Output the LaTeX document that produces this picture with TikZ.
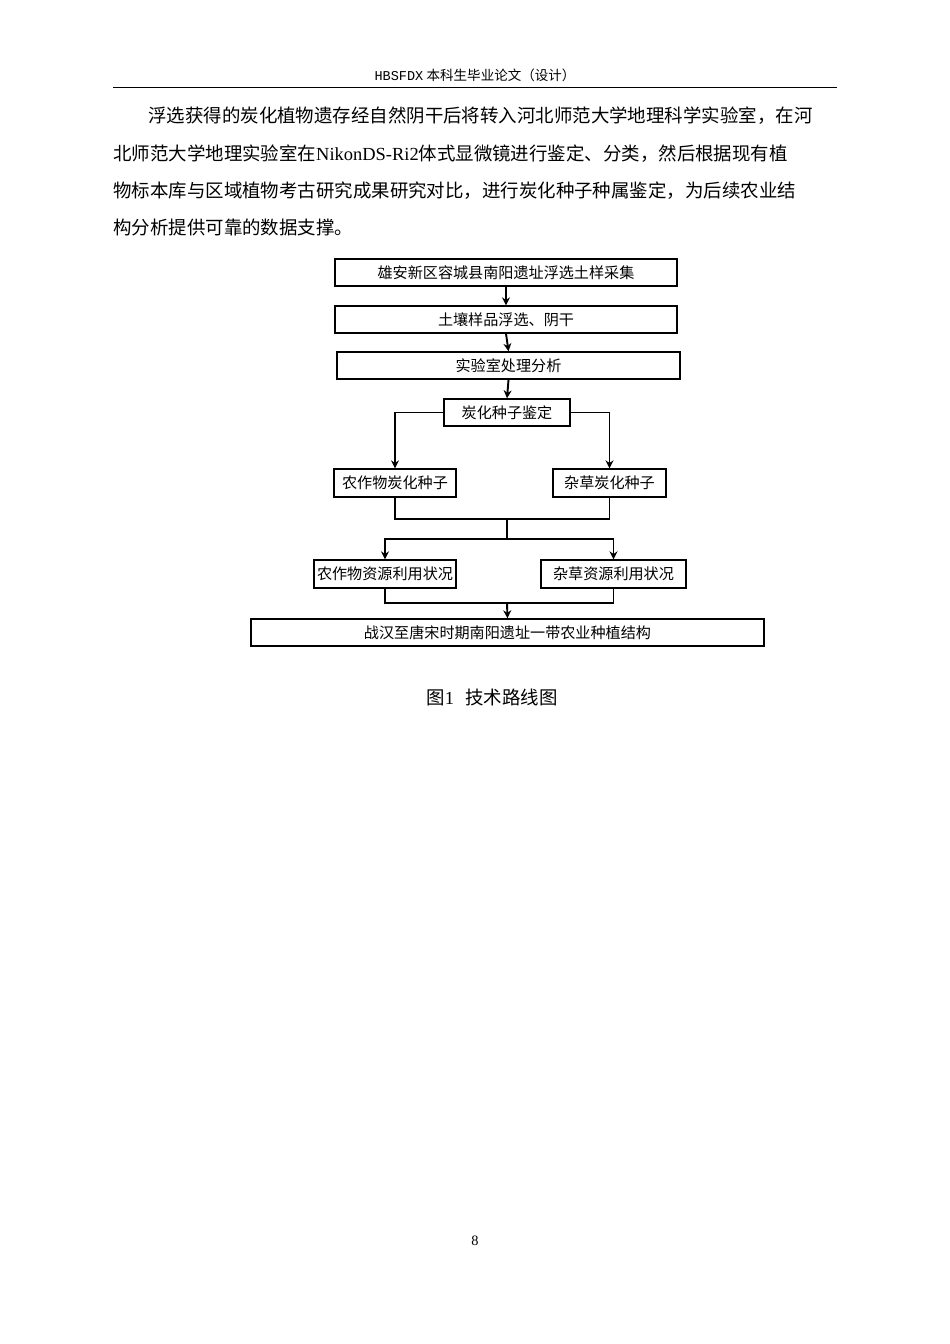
\documentclass[tikz,border=0pt]{standalone}
\usepackage{fontspec}
\setmainfont{Liberation Serif}
\newfontfamily\cjk{Noto Sans CJK SC}
\newfontfamily\hdr{Liberation Mono}
\usetikzlibrary{arrows.meta}
\tikzset{
  box/.style={draw,line width=0.9pt,inner sep=0pt,font=\cjk\fontsize{9.5}{11}\selectfont},
  conn/.style={line width=1.2pt},
  arr/.style={line width=1.2pt,-{Stealth[length=5pt,width=5pt]}},
  para/.style={anchor=base west,inner sep=0pt,font=\fontsize{11.6}{14}\selectfont}
}
\begin{document}
\begin{tikzpicture}[x=0.221mm,y=-0.221mm]
\useasboundingbox (0,0) rectangle (950,1344);
% header
\node[inner sep=0pt,anchor=base] (hd) at (475,80) {\fontsize{8.5}{10}\selectfont{\hdr HBSFDX} {\cjk 本科生毕业论文（设计）}};
\draw[line width=0.6pt] (113,87) coordinate (hl) -- (837,87) coordinate (hr);
% paragraph
\node[para] (p1) at (148,122) {\cjk 浮选获得的炭化植物遗存经自然阴干后将转入河北师范大学地理科学实验室，在河};
\node[para] (p2) at (113,160) {{\cjk 北师范大学地理实验室在}NikonDS-Ri2{\cjk 体式显微镜进行鉴定、分类，然后根据现有植}};
\node[para] (p3) at (113,197) {\cjk 物标本库与区域植物考古研究成果研究对比，进行炭化种子种属鉴定，为后续农业结};
\node[para] (p4) at (113,234) {\cjk 构分析提供可靠的数据支撑。};
% flowchart
\node[box,minimum width=342*0.221mm,minimum height=27*0.221mm] (b1) at (506,272.5) {雄安新区容城县南阳遗址浮选土样采集};
\node[box,minimum width=342*0.221mm,minimum height=27*0.221mm] (b2) at (506,319.5) {土壤样品浮选、阴干};
\node[box,minimum width=343*0.221mm,minimum height=27*0.221mm] (b3) at (508.5,365.5) {实验室处理分析};
\node[box,minimum width=126*0.221mm,minimum height=27*0.221mm] (b4) at (507,412.5) {炭化种子鉴定};
\node[box,minimum width=122*0.221mm,minimum height=28*0.221mm] (b5) at (395,483) {农作物炭化种子};
\node[box,minimum width=113*0.221mm,minimum height=28*0.221mm] (b6) at (609.5,483) {杂草炭化种子};
\node[box,minimum width=142*0.221mm,minimum height=28*0.221mm] (b7) at (385,574) {农作物资源利用状况};
\node[box,minimum width=145*0.221mm,minimum height=28*0.221mm] (b8) at (613.5,574) {杂草资源利用状况};
\node[box,minimum width=513*0.221mm,minimum height=27*0.221mm] (b9) at (507.5,632.5) {战汉至唐宋时期南阳遗址一带农业种植结构};
\draw[arr] (b1.south) -- (b2.north);
\draw[arr] (b2.south) -- (b3.north);
\draw[arr] (b3.south) -- (b4.north);
\draw[arr] (b4.west) -| (b5.north);
\draw[arr] (b4.east) -| (b6.north);
\coordinate (m1) at (507,519);
\coordinate (s1) at (507,539);
\draw[conn] (b5.south) |- (m1) -| (b6.south);
\draw[conn] (m1) -- (s1);
\draw[arr] (s1) -| (b7.north);
\draw[arr] (s1) -| (b8.north);
\coordinate (m2) at (507,603);
\draw[conn] (b7.south) |- (m2) -| (b8.south);
\draw[arr] (m2) -- (b9.north);
% caption and page number
\node[inner sep=0pt,anchor=base] (cap) at (492,704) {\fontsize{11.6}{14}\selectfont{\cjk 图}1\hspace{0.6em}{\cjk 技术路线图}};
\node[inner sep=0pt,anchor=base] (pg) at (475,1245) {\fontsize{9}{10}\selectfont 8};
\end{tikzpicture}
\end{document}
